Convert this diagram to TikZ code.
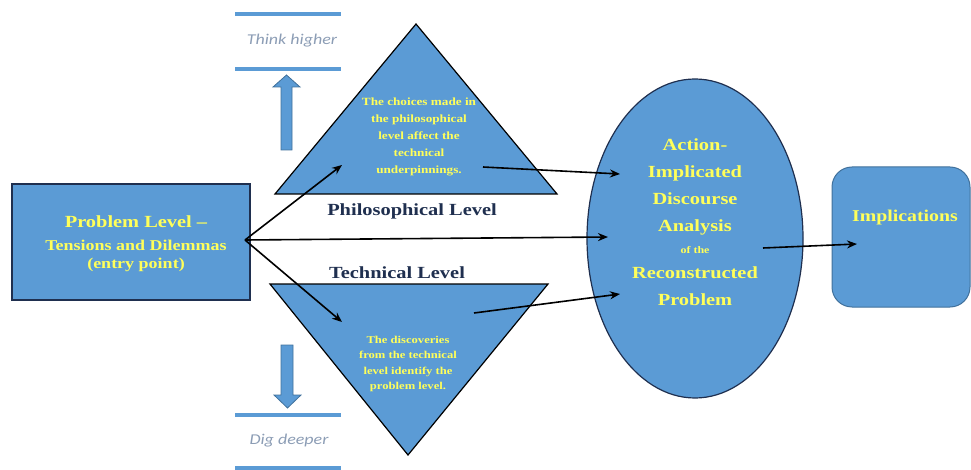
\documentclass[tikz,border=0pt]{standalone}
\usepackage{fontspec}
\setmainfont{Liberation Serif}[FakeStretch=1.2]
\newfontfamily\calfont{Carlito}[FakeStretch=1.2]
\usetikzlibrary{shapes.geometric,arrows.meta}
\definecolor{boxblue}{HTML}{5B9BD5}
\definecolor{edgeblue}{HTML}{41719C}
\definecolor{navy}{HTML}{1F2F4F}
\definecolor{txtyellow}{HTML}{FFFF5A}
\definecolor{hintgray}{HTML}{8C9DB5}
\tikzset{
  x=1pt, y=-1pt,
  shapefill/.style={fill=boxblue, draw=navy, line width=1.2pt},
  yeltext/.style={text=txtyellow, font=\bfseries, align=center},
  conn/.style={-{Stealth[length=10pt,width=8pt]}, line width=1.6pt, black},
  guide/.style={draw=boxblue, line width=4pt},
  hint/.style={text=hintgray, font=\calfont\itshape\fontsize{15}{17}\selectfont},
  levellabel/.style={text=navy, font=\bfseries\fontsize{17}{19}\selectfont},
  blockarrow/.style={fill=boxblue, draw=edgeblue, line width=0.8pt},
}
\begin{document}
\begin{tikzpicture}
\useasboundingbox (0,0) rectangle (971,470);

% entry box
\node[shapefill, minimum width=238pt, minimum height=116pt, inner sep=0pt] (prob) at (131,242) {};
\node[yeltext, font=\bfseries\fontsize{17}{20}\selectfont] (probtitle) at (136,222) {Problem Level --};
\node[yeltext, font=\bfseries\fontsize{15}{17.5}\selectfont] (probsub) at (136,256) {Tensions and Dilemmas\\(entry point)};

% philosophical (upper) triangle
\path[shapefill, draw=black] (275,194) -- (557,194) -- (416,24) -- cycle;
\node[yeltext, font=\bfseries\fontsize{11}{17}\selectfont] (phitext) at (419,137)
  {The choices made in\\the philosophical\\level affect the\\technical\\underpinnings.};
% technical (lower) triangle
\path[shapefill, draw=black] (270,284) -- (548,284) -- (408,455) -- cycle;
\node[yeltext, font=\bfseries\fontsize{10.5}{15.5}\selectfont] (techtext) at (408,364)
  {The discoveries\\from the technical\\level identify the\\problem level.};

\node[levellabel] (philab) at (412,211) {Philosophical Level};
\node[levellabel] (techlab) at (397,273) {Technical Level};

% think higher / dig deeper
\draw[guide] (235,14) -- (341,14);
\draw[guide] (235,69) -- (341,69);
\node[hint] (think) at (292,41) {Think higher};
\draw[guide] (235,415) -- (341,415);
\draw[guide] (235,468) -- (341,468);
\node[hint] (dig) at (289,441) {Dig deeper};

\path[blockarrow] (281,150) -- (281,87) -- (273,87) -- (286.5,75) -- (300,87) -- (292,87) -- (292,150) -- cycle;
\path[blockarrow] (281,345) -- (281,395) -- (274,395) -- (287.5,408) -- (301,395) -- (293,395) -- (293,345) -- cycle;

% analysis ellipse
\node[shapefill, ellipse, minimum width=216pt, minimum height=319pt, inner sep=0pt] (ellip) at (695,238.5) {};
\node[yeltext, font=\bfseries\fontsize{17}{27}\selectfont] (ell1) at (695,187)
  {Action-\\Implicated\\Discourse\\Analysis};
\node[yeltext, font=\bfseries\fontsize{10}{12}\selectfont] (ell2) at (695,250) {of the};
\node[yeltext, font=\bfseries\fontsize{17}{27}\selectfont] (ell3) at (695,286)
  {Reconstructed\\Problem};

% implications
\node[fill=boxblue, draw=edgeblue, line width=1pt, rounded corners=20pt,
      minimum width=138pt, minimum height=140pt, inner sep=0pt] (impl) at (901,237) {};
\node[yeltext, font=\bfseries\fontsize{16.5}{18}\selectfont] (impltext) at (905,218) {Implications};

% connector end points
\coordinate (pstart) at (245,240);
\coordinate (phiin) at (342,165);
\coordinate (techin) at (342,322);
\coordinate (ellmid) at (608,237);
\coordinate (phiout) at (483,167);
\coordinate (ellup) at (620,174);
\coordinate (techout) at (474,313);
\coordinate (elllow) at (620,294);
\coordinate (ellout) at (763,248);
\coordinate (implin) at (857,244);

\draw[conn] (pstart) -- (phiin);
\draw[conn] (pstart) -- (ellmid);
\draw[conn] (pstart) -- (techin);
\draw[conn] (phiout) -- (ellup);
\draw[conn] (techout) -- (elllow);
\draw[conn] (ellout) -- (implin);
\end{tikzpicture}
\end{document}
